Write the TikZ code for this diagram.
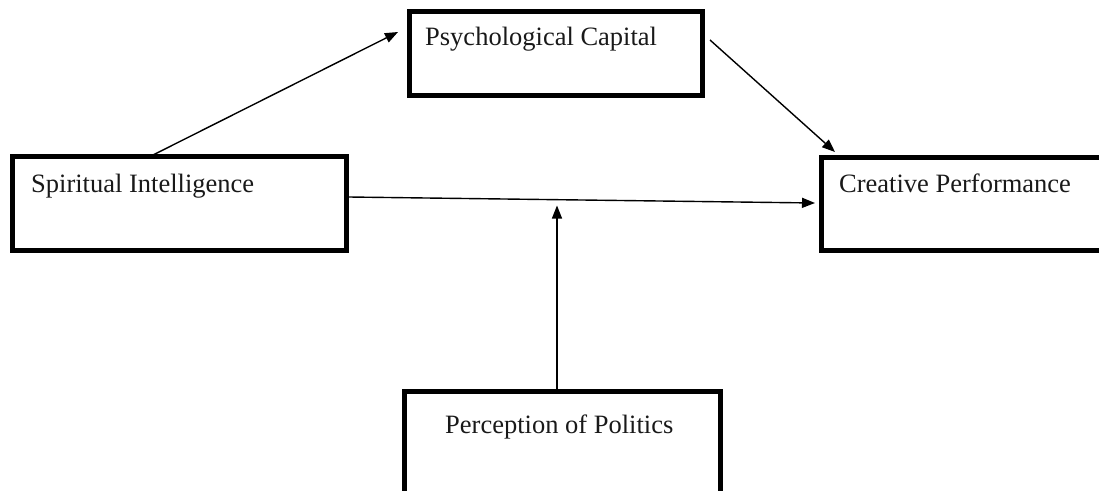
\documentclass[tikz,border=0pt]{standalone}
\usepackage{fontspec}
\setmainfont{Liberation Serif}
\usetikzlibrary{arrows.meta}
\begin{document}
\begin{tikzpicture}[x=1pt,y=-1pt,
  box/.style={draw=black,line width=5pt,inner sep=0pt,outer sep=0pt,rectangle},
  lbl/.style={anchor=base west,inner sep=0pt,text=black!90,font=\fontsize{26.5}{30}\selectfont},
  conn/.style={line width=1.4pt,-{Triangle[length=13pt,width=10pt]}}]
\useasboundingbox (0,0) rectangle (1099,490);
\begin{scope}
\clip (0,0) rectangle (1099,490);
\node[box,minimum width=293pt,minimum height=84pt] (psych) at (556,53.5) {};
\node[box,minimum width=334pt,minimum height=94pt] (spirit) at (179.5,203.5) {};
\node[box,minimum width=290pt,minimum height=93pt] (creat) at (966.5,204) {};
\node[box,minimum width=316pt,minimum height=129pt] (percep) at (562.5,456) {};
\node[lbl] (tpsych) at (425,45) {Psychological Capital};
\node[lbl] (tspirit) at (31,192) {Spiritual Intelligence};
\node[lbl] (tcreat) at (839,192) {Creative Performance};
\node[lbl] (tpercep) at (445,433) {Perception of Politics};
\coordinate (mod) at (557,205.5);
\draw[conn] ([xshift=140.5pt,yshift=1.5pt]spirit.north west) -- ([xshift=-11.5pt,yshift=21.5pt]psych.west);
\draw[conn] ([xshift=7.5pt,yshift=13.5pt]psych.east) -- ([xshift=13.5pt,yshift=5.5pt]creat.north west);
\draw[conn] ([xshift=2.5pt,yshift=6.5pt]spirit.east) -- ([xshift=-6.5pt,yshift=1pt]creat.west);
\draw[conn] ([xshift=-5.5pt]percep.north) -- (mod);
\end{scope}
\end{tikzpicture}
\end{document}
